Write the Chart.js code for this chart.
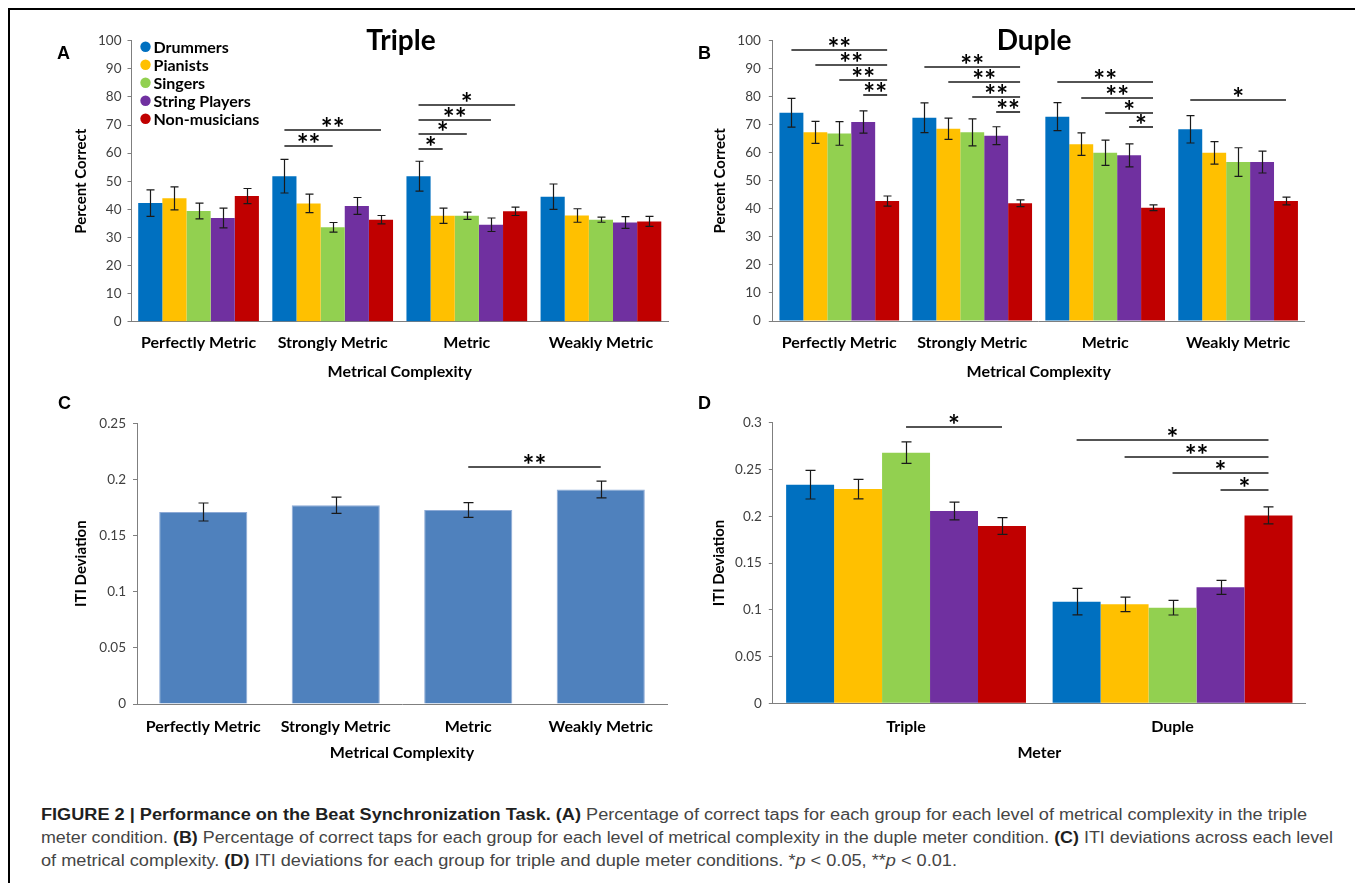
<!DOCTYPE html>
<html>
<head>
<meta charset="utf-8">
<script src="https://cdn.jsdelivr.net/npm/chart.js@4.4.1/dist/chart.umd.min.js"></script>
<style>
  body { margin: 0; background: #fff; width: 1355px; height: 883px; overflow: hidden; position: relative; font-family: Lato, sans-serif; }
  canvas { position: absolute; }
  .frame { position: absolute; left: 7.5px; top: 8px; width: 1400px; height: 900px; border-left: 2.5px solid #000; border-top: 2.5px solid #000; }
  .letter { position: absolute; font: bold 18px/18px "Liberation Sans", Arial, sans-serif; color: #000; }
  .ptitle { position: absolute; font: bold 28px/28px Lato, sans-serif; color: #000; transform: translateX(-50%); }
  .caption { position: absolute; left: 41px; top: 803px; font: 16px/23px "Liberation Sans", Arial, sans-serif; color: #454545; }
  .caption div { white-space: nowrap; width: max-content; transform-origin: 0 0; }
  .caption b { color: #1f1f1f; }
</style>
</head>
<body>
<div class="frame"></div>

<canvas id="chartA" width="640" height="370" style="left:40px;top:20px"></canvas>
<canvas id="chartB" width="660" height="370" style="left:680px;top:20px"></canvas>
<canvas id="chartC" width="640" height="380" style="left:40px;top:390px"></canvas>
<canvas id="chartD" width="660" height="380" style="left:680px;top:390px"></canvas>

<div class="letter" style="left:57px;top:44px">A</div>
<div class="letter" style="left:698px;top:44px">B</div>
<div class="letter" style="left:58px;top:394px">C</div>
<div class="letter" style="left:698px;top:394px">D</div>
<div class="ptitle" style="left:401px;top:25px">Triple</div>
<div class="ptitle" style="left:1034px;top:25px">Duple</div>

<div class="caption" id="caption">
  <div data-w="1266"><b>FIGURE 2 | Performance on the Beat Synchronization Task. (A)</b> Percentage of correct taps for each group for each level of metrical complexity in the triple</div>
  <div data-w="1292">meter condition. <b>(B)</b> Percentage of correct taps for each group for each level of metrical complexity in the duple meter condition. <b>(C)</b> ITI deviations across each level</div>
  <div data-w="916">of metrical complexity. <b>(D)</b> ITI deviations for each group for triple and duple meter conditions. *<i>p</i> &lt; 0.05, **<i>p</i> &lt; 0.01.</div>
</div>

<script>
// ---- data ----
const groups = ['Drummers', 'Pianists', 'Singers', 'String Players', 'Non-musicians'];
const groupColors = ['#0070C0', '#FFC000', '#92D050', '#7030A0', '#C00000'];
const complexity = ['Perfectly Metric', 'Strongly Metric', 'Metric', 'Weakly Metric'];
const meters = ['Triple', 'Duple'];

// A: triple meter, percent correct (one row per group, one value per complexity level)
const tripleMean = [
  [42.2, 51.8, 51.8, 44.5],
  [43.9, 42.1, 37.7, 37.8],
  [39.4, 33.6, 37.7, 36.3],
  [36.9, 41.2, 34.5, 35.3],
  [44.7, 36.3, 39.3, 35.7]
];
const tripleErr = [
  [4.7, 6.0, 5.3, 4.5],
  [4.1, 3.3, 2.7, 2.4],
  [2.8, 1.7, 1.3, 0.9],
  [3.5, 3.0, 2.4, 2.1],
  [2.7, 1.5, 1.5, 1.8]
];

// B: duple meter, percent correct
const dupleMean = [
  [74.3, 72.5, 72.9, 68.4],
  [67.3, 68.6, 63.1, 60.0],
  [66.9, 67.3, 60.0, 56.7],
  [71.0, 66.1, 59.1, 56.7],
  [42.8, 42.0, 40.4, 42.8]
];
const dupleErr = [
  [5.1, 5.3, 5.0, 4.9],
  [3.9, 3.8, 4.0, 4.0],
  [4.2, 4.8, 4.5, 5.1],
  [4.0, 3.2, 4.1, 3.9],
  [1.8, 1.2, 1.0, 1.4]
];

// C: ITI deviation per complexity level
const itiComplexMean = [0.171, 0.177, 0.1728, 0.191];
const itiComplexErr = [0.008, 0.0072, 0.0065, 0.0075];

// D: ITI deviation per group, triple / duple
const itiMeterMean = [
  [0.2337, 0.1087],
  [0.229, 0.1058],
  [0.268, 0.1022],
  [0.2056, 0.124],
  [0.1895, 0.2009]
];
const itiMeterErr = [
  [0.0153, 0.0142],
  [0.0105, 0.0078],
  [0.0114, 0.0078],
  [0.0095, 0.0075],
  [0.009, 0.009]
];

// significance brackets: [category from, group from, category to, group to, height, stars]
const sigA = [
  [1, 0, 1, 2, 62.5, '**'], [1, 0, 1, 4, 68.2, '**'],
  [2, 0, 2, 1, 61.6, '*'], [2, 0, 2, 2, 66.7, '*'], [2, 0, 2, 3, 71.8, '**'], [2, 0, 2, 4, 77.0, '*']
];
const sigB = [
  [0, 0, 0, 4, 96.7, '**'], [0, 1, 0, 4, 91.3, '**'], [0, 2, 0, 4, 86.0, '**'], [0, 3, 0, 4, 80.6, '**'],
  [1, 0, 1, 4, 90.5, '**'], [1, 1, 1, 4, 85.1, '**'], [1, 2, 1, 4, 79.8, '**'], [1, 3, 1, 4, 74.6, '**'],
  [2, 0, 2, 4, 85.1, '**'], [2, 1, 2, 4, 79.5, '**'], [2, 2, 2, 4, 74.2, '*'], [2, 3, 2, 4, 69.1, '*'],
  [3, 0, 3, 4, 78.8, '*']
];
const sigC = [[2, 0, 3, 0, 0.2114, '**']];
const sigD = [
  [0, 2, 0, 4, 0.2953, '*'],
  [1, 0, 1, 4, 0.281, '*'], [1, 1, 1, 4, 0.2636, '**'], [1, 2, 1, 4, 0.2458, '*'], [1, 3, 1, 4, 0.2276, '*']
];

const percentTicks = [0, 10, 20, 30, 40, 50, 60, 70, 80, 90, 100];
const itiTicksC = [0, 0.05, 0.1, 0.15, 0.2, 0.25];
const itiTicksD = [0, 0.05, 0.1, 0.15, 0.2, 0.25, 0.3];

Chart.defaults.font.family = 'Lato';
Chart.defaults.font.weight = 'bold';

// ---- drawing helpers ----
const extras = {
  id: 'extras',
  afterDatasetsDraw(chart, args, opts) {
    const ctx = chart.ctx;
    const ys = chart.scales.y;
    ctx.save();

    // error bars
    ctx.strokeStyle = '#1a1a1a';
    ctx.lineWidth = 1.2;
    chart.data.datasets.forEach((ds, di) => {
      chart.getDatasetMeta(di).data.forEach((bar, i) => {
        const hi = ys.getPixelForValue(ds.data[i] + ds.err[i]);
        const lo = ys.getPixelForValue(ds.data[i] - ds.err[i]);
        const x = Math.round(bar.x) + 0.5;
        ctx.beginPath();
        ctx.moveTo(x, hi); ctx.lineTo(x, lo);
        ctx.moveTo(x - opts.cap, hi); ctx.lineTo(x + opts.cap, hi);
        ctx.moveTo(x - opts.cap, lo); ctx.lineTo(x + opts.cap, lo);
        ctx.stroke();
      });
    });

    // significance lines + stars
    ctx.strokeStyle = '#1a1a1a';
    ctx.lineWidth = 1.6;
    ctx.fillStyle = '#000';
    ctx.font = 'bold 28px Lato';
    ctx.textAlign = 'center';
    ctx.textBaseline = 'alphabetic';
    opts.sig.forEach(([c1, d1, c2, d2, v, t]) => {
      const x1 = chart.getDatasetMeta(d1).data[c1].x;
      const x2 = chart.getDatasetMeta(d2).data[c2].x;
      const py = Math.round(ys.getPixelForValue(v));
      ctx.beginPath();
      ctx.moveTo(x1, py); ctx.lineTo(x2, py);
      ctx.stroke();
      ctx.fillText(t, (x1 + x2) / 2, py + 8);
    });

    // legend inside plot (panel A only)
    if (opts.legend) {
      const a = chart.chartArea;
      ctx.font = 'bold 16px Lato';
      ctx.textAlign = 'left';
      ctx.textBaseline = 'middle';
      chart.data.datasets.forEach((ds, i) => {
        const cx = a.left + 14, cy = a.top + 6 + i * 18;
        ctx.fillStyle = ds.backgroundColor;
        ctx.beginPath();
        ctx.arc(cx, cy, 5.2, 0, Math.PI * 2);
        ctx.fill();
        ctx.fillStyle = '#000';
        ctx.fillText(ds.label, cx + 8, cy + 1);
      });
    }
    ctx.restore();
  }
};

function groupSets(means, errs) {
  return groups.map((g, i) => ({
    label: g,
    data: means[i],
    err: errs[i],
    backgroundColor: groupColors[i],
    borderWidth: 0,
    categoryPercentage: 0.9,
    barPercentage: 1.0
  }));
}

function makeChart(id, c) {
  return new Chart(document.getElementById(id), {
    type: 'bar',
    data: { labels: c.labels, datasets: c.datasets },
    plugins: [extras],
    options: {
      responsive: false,
      animation: false,
      devicePixelRatio: 1,
      layout: { padding: { left: 0, top: c.top, right: c.right, bottom: 0 } },
      plugins: {
        legend: { display: false },
        tooltip: { enabled: false },
        extras: { sig: c.sig, cap: c.cap, legend: !!c.legend }
      },
      scales: {
        x: {
          grid: { display: false, drawTicks: false },
          border: { color: '#7f7f7f', width: 1 },
          ticks: { font: { size: 16, weight: 'bold' }, color: '#000', padding: c.xPad, maxRotation: 0, autoSkip: false },
          title: { display: true, text: c.xTitle, font: { size: 16, weight: 'bold' }, color: '#000', padding: { top: 0, bottom: c.xTitleBottom } },
          afterFit: s => { s.height = c.xH; }
        },
        y: {
          min: 0,
          max: c.max,
          afterBuildTicks: s => { s.ticks = c.yTicks.map(v => ({ value: v })); },
          ticks: { font: { size: 13.5, weight: 'normal' }, color: '#404040', padding: c.yPad, callback: v => String(v) },
          grid: { drawOnChartArea: false, drawTicks: true, tickLength: 4, color: '#7f7f7f' },
          border: { color: '#7f7f7f', width: 1 },
          title: { display: true, text: c.yTitle, font: { size: 15, weight: 'bold' }, color: '#000', padding: { top: c.yTitleLeft, bottom: 0 } },
          afterFit: s => { s.width = c.yW; }
        }
      }
    }
  });
}

makeChart('chartA', {
  labels: complexity, datasets: groupSets(tripleMean, tripleErr), sig: sigA, cap: 4, legend: true,
  max: 100, yTicks: percentTicks, yTitle: 'Percent Correct', xTitle: 'Metrical Complexity',
  top: 20.7, right: 12, yW: 91.5, xH: 68.3, yTitleLeft: 32, xTitleBottom: 8.7, xPad: 12, yPad: 6
});

makeChart('chartB', {
  labels: complexity, datasets: groupSets(dupleMean, dupleErr), sig: sigB, cap: 4,
  max: 100, yTicks: percentTicks, yTitle: 'Percent Correct', xTitle: 'Metrical Complexity',
  top: 20.7, right: 35.4, yW: 92.8, xH: 69, yTitleLeft: 31.3, xTitleBottom: 8.7, xPad: 12.7, yPad: 8
});

makeChart('chartC', {
  labels: complexity,
  datasets: [{
    label: 'ITI Deviation', data: itiComplexMean, err: itiComplexErr,
    backgroundColor: '#4F81BD', borderColor: '#8DAAD6', borderWidth: 1,
    categoryPercentage: 1.0, barPercentage: 0.665
  }],
  sig: sigC, cap: 5,
  max: 0.25, yTicks: itiTicksC, yTitle: 'ITI Deviation', xTitle: 'Metrical Complexity',
  top: 33.3, right: 13, yW: 97, xH: 66, yTitleLeft: 31.8, xTitleBottom: 7.1, xPad: 13.1, yPad: 7
});

makeChart('chartD', {
  labels: meters, datasets: groupSets(itiMeterMean, itiMeterErr), sig: sigD, cap: 5,
  max: 0.3, yTicks: itiTicksD, yTitle: 'ITI Deviation', xTitle: 'Meter',
  top: 32.7, right: 34.2, yW: 92.8, xH: 66.7, yTitleLeft: 30, xTitleBottom: 7.1, xPad: 13.8, yPad: 7
});

// stretch each caption line to its printed width
document.querySelectorAll('#caption div').forEach(d => {
  const sc = +d.dataset.w / d.getBoundingClientRect().width;
  d.style.transform = 'scaleX(' + sc + ')';
});
</script>
</body>
</html>
